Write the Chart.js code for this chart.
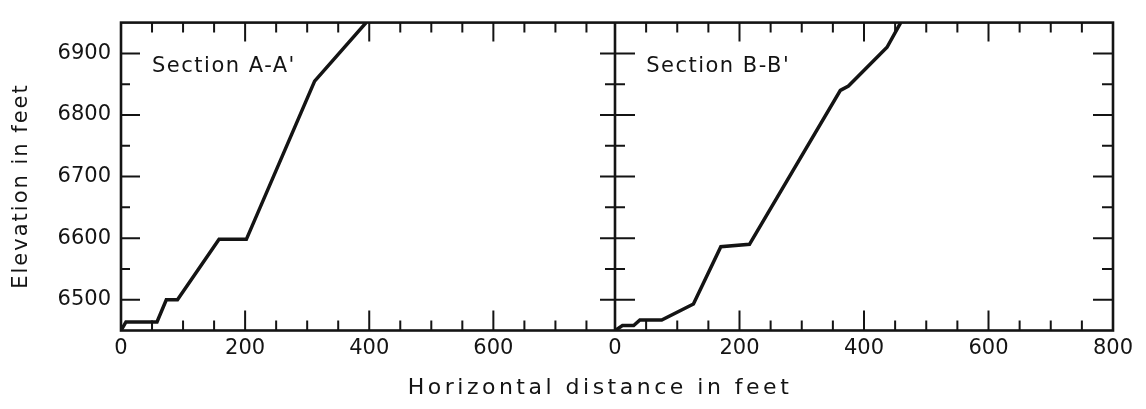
<!DOCTYPE html>
<html>
<head>
<meta charset="utf-8">
<title>Sections A-A' and B-B'</title>
<script src="https://cdn.jsdelivr.net/npm/chart.js@4.4.1/dist/chart.umd.min.js"></script>
<style>
  html, body { margin: 0; padding: 0; background: #fff; }
  #wrap { width: 1146px; height: 409px; }
</style>
</head>
<body>
<div id="wrap"><canvas id="sectionChart" width="1146" height="409"></canvas></div>
<script>
// values (horizontal distance / elevation, feet)
const sectionADistance = [0, 8, 58, 73, 91, 158, 202, 312, 395];
const sectionAElevation = [6450, 6464, 6464, 6500, 6500, 6598, 6598, 6855, 6950];
const sectionBDistance = [0, 12, 30, 40, 75, 126, 170, 216, 362, 375, 437, 459];
const sectionBElevation = [6450, 6458, 6458, 6467, 6467, 6493, 6586, 6590, 6840, 6847, 6910, 6950];

const distanceTicksA = [0, 200, 400, 600];
const distanceTicksB = [0, 200, 400, 600, 800];
const elevationTicks = [6500, 6600, 6700, 6800, 6900];
const panelLabels = ["Section A-A'", "Section B-B'"];
const yTitle = "Elevation in feet";
const xTitle = "Horizontal distance in feet";

const ink = "#141414";
const fontFamily = '"DejaVu Sans", sans-serif';

function toPoints(xs, ys) {
  return xs.map((x, i) => ({ x, y: ys[i] }));
}

function setTicks(values) {
  return (scale) => {
    scale.ticks = values.map((v) => ({ value: v }));
  };
}

const frameAndTicks = {
  id: "frameAndTicks",
  afterDatasetsDraw(chart) {
    const { ctx, chartArea: a, scales } = chart;
    const { x1, x2, y } = scales;

    ctx.save();
    ctx.strokeStyle = ink;
    ctx.lineWidth = 2.6;
    ctx.strokeRect(a.left, a.top, a.right - a.left, a.bottom - a.top);
    ctx.beginPath();
    ctx.moveTo(x2.left, a.top);
    ctx.lineTo(x2.left, a.bottom);
    ctx.stroke();

    // tick marks every 50 ft, longer at the labelled ones
    ctx.lineWidth = 2;
    ctx.beginPath();
    [x1, x2].forEach((s) => {
      for (let v = 50; v < s.max - 10; v += 50) {
        const px = s.getPixelForValue(v);
        const major = v % 200 === 0;
        ctx.moveTo(px, a.bottom);
        ctx.lineTo(px, a.bottom - (major ? 20 : 10));
        ctx.moveTo(px, a.top);
        ctx.lineTo(px, a.top + (major ? 19 : 10));
      }
    });
    for (let v = 6500; v < y.max; v += 50) {
      const py = y.getPixelForValue(v);
      const major = v % 100 === 0;
      ctx.moveTo(a.left, py);
      ctx.lineTo(a.left + (major ? 19 : 9), py);
      ctx.moveTo(x2.left - (major ? 15 : 10), py);
      ctx.lineTo(x2.left + (major ? 20 : 10), py);
      ctx.moveTo(a.right, py);
      ctx.lineTo(a.right - (major ? 20 : 11), py);
    }
    ctx.stroke();

    // texts
    ctx.fillStyle = ink;
    ctx.font = "21px " + fontFamily;
    ctx.letterSpacing = "1.5px";
    ctx.textBaseline = "middle";
    ctx.textAlign = "left";
    ctx.fillText(panelLabels[0], x1.getPixelForValue(50), y.getPixelForValue(6878));
    ctx.fillText(panelLabels[1], x2.getPixelForValue(50), y.getPixelForValue(6878));

    ctx.textAlign = "center";
    ctx.font = "22px " + fontFamily;
    ctx.letterSpacing = "3.5px";
    ctx.fillText(xTitle, 600, 388);

    ctx.font = "21px " + fontFamily;
    ctx.letterSpacing = "2px";
    ctx.translate(22, 186);
    ctx.rotate(-Math.PI / 2);
    ctx.fillText(yTitle, 0, 0);
    ctx.restore();
  },
};

const tickFont = { family: fontFamily, size: 21 };
const plainNumber = (value) => String(value);

function distanceAxis(max, weight, ticks) {
  return {
    type: "linear",
    position: "bottom",
    stack: "distance",
    stackWeight: weight,
    min: 0,
    max: max,
    afterBuildTicks: setTicks(ticks),
    afterFit: (scale) => {
      scale.height = 78.5;
    },
    grid: { display: false, drawTicks: false },
    border: { display: false },
    ticks: { font: tickFont, color: ink, padding: 5, maxRotation: 0, autoSkip: false, callback: plainNumber },
  };
}

new Chart(document.getElementById("sectionChart"), {
  type: "line",
  data: {
    datasets: [
      {
        label: panelLabels[0],
        data: toPoints(sectionADistance, sectionAElevation),
        xAxisID: "x1",
        yAxisID: "y",
        borderColor: ink,
        borderWidth: 3.5,
        pointRadius: 0,
        tension: 0,
      },
      {
        label: panelLabels[1],
        data: toPoints(sectionBDistance, sectionBElevation),
        xAxisID: "x2",
        yAxisID: "y",
        borderColor: ink,
        borderWidth: 3.5,
        pointRadius: 0,
        tension: 0,
      },
    ],
  },
  options: {
    responsive: false,
    animation: false,
    layout: { padding: { top: 18, right: 33, left: 0, bottom: 0 } },
    plugins: { legend: { display: false }, tooltip: { enabled: false } },
    scales: {
      x1: distanceAxis(796, 494, distanceTicksA),
      x2: distanceAxis(800, 498, distanceTicksB),
      y: {
        type: "linear",
        position: "left",
        min: 6450,
        max: 6950,
        afterBuildTicks: setTicks(elevationTicks),
        afterFit: (scale) => {
          scale.width = 121;
        },
        grid: { display: false, drawTicks: false },
        border: { display: false },
        ticks: { font: tickFont, color: ink, padding: 10, callback: plainNumber },
      },
    },
  },
  plugins: [frameAndTicks],
});
</script>
</body>
</html>
